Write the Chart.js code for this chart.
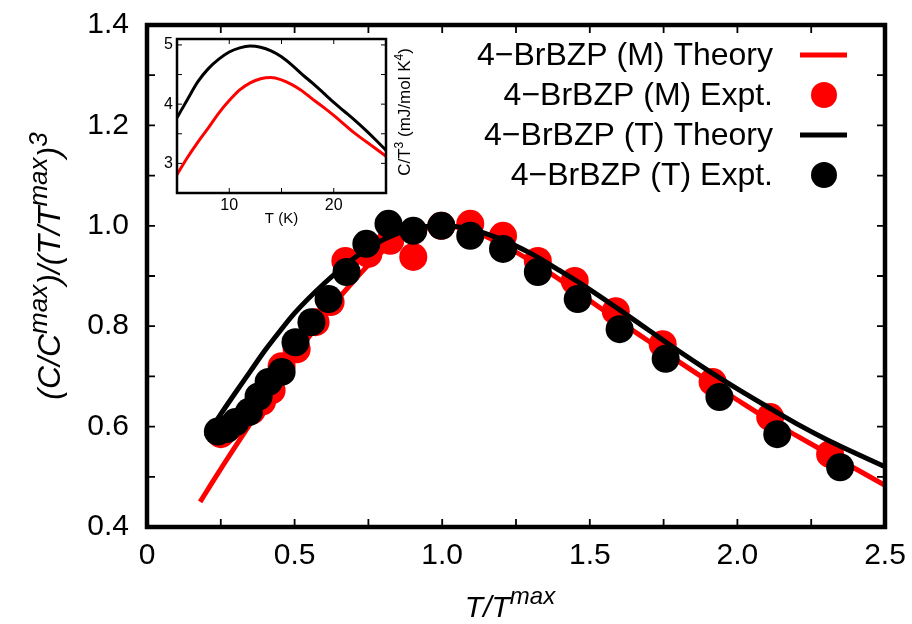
<!DOCTYPE html>
<html>
<head>
<meta charset="utf-8">
<script src="https://cdn.jsdelivr.net/npm/chart.js@4.4.0/dist/chart.umd.min.js"></script>
<style>
  html, body { margin: 0; padding: 0; background: #fff; }
  #wrap { position: relative; width: 912px; height: 624px; }
  #mainChart { position: absolute; left: 0; top: 0; }
  #insetChart { position: absolute; left: 150px; top: 28px; }
</style>
</head>
<body>
<div id="wrap">
  <canvas id="mainChart" width="912" height="624" style="width:912px;height:624px"></canvas>
  <canvas id="insetChart" width="280" height="200" style="width:280px;height:200px"></canvas>
</div>
<script>
// ---- main panel data: T/Tmax vs (C/Cmax)/(T/Tmax)^3 ----
var mTheoryX = [0.18, 0.22, 0.26, 0.31, 0.36, 0.42, 0.5, 0.6, 0.7, 0.8, 0.9, 1.0, 1.1, 1.2, 1.3, 1.4, 1.5, 1.6, 1.7, 1.8, 1.9, 2.0, 2.1, 2.2, 2.3, 2.4, 2.5];
var mTheoryY = [0.45, 0.488, 0.525, 0.57, 0.615, 0.668, 0.738, 0.82, 0.89, 0.95, 0.985, 1.0, 0.99, 0.964, 0.93, 0.892, 0.851, 0.81, 0.77, 0.73, 0.691, 0.653, 0.616, 0.582, 0.549, 0.516, 0.483];

var mExptX = [0.25, 0.30, 0.355, 0.39, 0.422, 0.456, 0.507, 0.571, 0.622, 0.672, 0.75, 0.824, 0.902, 0.997, 1.095, 1.206, 1.324, 1.449, 1.588, 1.747, 1.916, 2.111, 2.314];
var mExptY = [0.585, 0.605, 0.632, 0.65, 0.672, 0.72, 0.754, 0.808, 0.848, 0.93, 0.944, 0.97, 0.938, 1.0, 1.004, 0.98, 0.93, 0.89, 0.83, 0.764, 0.689, 0.619, 0.545];

var tTheoryX = [0.2, 0.25, 0.3, 0.35, 0.4, 0.45, 0.5, 0.6, 0.7, 0.8, 0.9, 1.0, 1.1, 1.2, 1.3, 1.4, 1.5, 1.6, 1.7, 1.8, 1.9, 2.0, 2.1, 2.2, 2.3, 2.4, 2.5];
var tTheoryY = [0.58, 0.625, 0.668, 0.71, 0.752, 0.79, 0.826, 0.885, 0.935, 0.972, 0.994, 1.0, 0.993, 0.973, 0.945, 0.91, 0.873, 0.833, 0.792, 0.751, 0.712, 0.675, 0.64, 0.606, 0.575, 0.547, 0.52];

var tExptX = [0.24, 0.27, 0.30, 0.345, 0.378, 0.412, 0.456, 0.503, 0.557, 0.615, 0.676, 0.743, 0.818, 0.902, 0.997, 1.095, 1.206, 1.324, 1.459, 1.601, 1.757, 1.939, 2.135, 2.348];
var tExptY = [0.59, 0.595, 0.609, 0.629, 0.66, 0.689, 0.709, 0.768, 0.808, 0.854, 0.908, 0.964, 1.004, 0.99, 1.0, 0.98, 0.954, 0.908, 0.854, 0.794, 0.735, 0.659, 0.585, 0.519];

var seriesLabels = ['4\u2212BrBZP (M) Theory', '4\u2212BrBZP (M) Expt.', '4\u2212BrBZP (T) Theory', '4\u2212BrBZP (T) Expt.'];

var xTickVals = [0, 0.5, 1.0, 1.5, 2.0, 2.5];
var xTickLabels = ['0', '0.5', '1.0', '1.5', '2.0', '2.5'];
var yTickVals = [0.4, 0.6, 0.8, 1.0, 1.2, 1.4];
var yTickLabels = ['0.4', '0.6', '0.8', '1.0', '1.2', '1.4'];

// ---- inset data: T (K) vs C/T^3 (mJ/mol K^4) ----
var insetT = [5, 6, 7, 8, 9, 10, 11, 12, 13, 14, 15, 16, 17, 18, 19, 20, 21, 22, 23, 24, 25];
var insetM = [2.81, 3.1, 3.36, 3.6, 3.85, 4.06, 4.24, 4.36, 4.43, 4.45, 4.41, 4.33, 4.22, 4.08, 3.95, 3.81, 3.66, 3.51, 3.38, 3.25, 3.12];
var insetTr = [3.77, 4.08, 4.38, 4.6, 4.76, 4.88, 4.95, 4.98, 4.96, 4.9, 4.8, 4.66, 4.5, 4.35, 4.19, 4.03, 3.88, 3.73, 3.57, 3.4, 3.22];

var insetXTickVals = [10, 20];
var insetXTickLabels = ['10', '20'];
var insetYTickVals = [3, 4, 5];
var insetYTickLabels = ['3', '4', '5'];

var RED = '#ff0000';
var BLACK = '#000000';
var FONT = '"Liberation Sans", Arial, Helvetica, sans-serif';
Chart.defaults.font.family = FONT;
Chart.defaults.color = '#000';

function pts(xs, ys) {
  return xs.map(function (x, i) { return { x: x, y: ys[i] }; });
}

// fixed axis size, and no extra room asked for the end labels
function fixSize(w, h) {
  return function (s) {
    if (w) s.width = w;
    if (h) s.height = h;
    s.paddingTop = s.paddingBottom = s.paddingLeft = s.paddingRight = 0;
  };
}

// text with superscripts, pieces = [[text, isSup], ...], centred on 0
function drawRich(ctx, pieces, size, italic, supRatio) {
  var supSize = Math.round(size * (supRatio || 0.72));
  var f = function (s) { return (italic ? 'italic ' : '') + s + 'px ' + FONT; };
  var total = 0;
  pieces.forEach(function (p) {
    ctx.font = f(p[1] ? supSize : size);
    total += ctx.measureText(p[0]).width;
  });
  var x = -total / 2;
  ctx.textAlign = 'left';
  ctx.textBaseline = 'alphabetic';
  pieces.forEach(function (p) {
    ctx.font = f(p[1] ? supSize : size);
    ctx.fillText(p[0], x, p[1] ? -size * 0.42 : 0);
    x += ctx.measureText(p[0]).width;
  });
}

function drawTicks(ctx, chart, xVals, yVals, len) {
  var a = chart.chartArea, xs = chart.scales.x, ys = chart.scales.y;
  ctx.beginPath();
  xVals.forEach(function (v) {
    var px = xs.getPixelForValue(v);
    ctx.moveTo(px, a.bottom); ctx.lineTo(px, a.bottom - len);
    ctx.moveTo(px, a.top); ctx.lineTo(px, a.top + len);
  });
  yVals.forEach(function (v) {
    var py = ys.getPixelForValue(v);
    ctx.moveTo(a.left, py); ctx.lineTo(a.left + len, py);
    ctx.moveTo(a.right, py); ctx.lineTo(a.right - len, py);
  });
  ctx.stroke();
}

var mainDecor = {
  id: 'mainDecor',
  afterDraw: function (chart) {
    var ctx = chart.ctx, a = chart.chartArea;
    ctx.save();
    ctx.strokeStyle = '#000';
    ctx.fillStyle = '#000';
    ctx.lineWidth = 1.8;
    var xm = [], ym = [];
    for (var i = 1; i < 10; i++) xm.push(i * 0.25);
    for (var j = 1; j < 10; j++) ym.push(0.4 + j * 0.1);
    drawTicks(ctx, chart, xm, ym, 8);
    ctx.lineWidth = 4.5;
    ctx.strokeRect(a.left, a.top, a.right - a.left, a.bottom - a.top);

    // legend (gnuplot style: text right aligned, sample on the right)
    var ds = chart.data.datasets;
    ctx.font = '32px ' + FONT;
    ctx.textAlign = 'right';
    ctx.textBaseline = 'middle';
    for (var k = 0; k < 4; k++) {
      var y = 55 + k * 40;
      ctx.fillStyle = '#000';
      ctx.fillText(ds[k].label, 773, y + 1);
      if (k % 2 === 0) {
        ctx.strokeStyle = ds[k].borderColor;
        ctx.lineWidth = 5;
        ctx.beginPath(); ctx.moveTo(800, y); ctx.lineTo(847, y); ctx.stroke();
      } else {
        ctx.fillStyle = ds[k].backgroundColor;
        ctx.beginPath(); ctx.arc(824, y, 13, 0, Math.PI * 2); ctx.fill();
      }
    }

    // axis titles
    ctx.fillStyle = '#000';
    ctx.save();
    ctx.translate(510, 617);
    drawRich(ctx, [['T/T', false], ['max', true]], 30, true, 0.8);
    ctx.restore();
    ctx.save();
    ctx.translate(60, 266);
    ctx.rotate(-Math.PI / 2);
    drawRich(ctx, [['(C/C', false], ['max', true], [')/(T/T', false], ['max', true], [')', false], ['3', true]], 32, true, 0.8);
    ctx.restore();
    ctx.restore();
  }
};

new Chart(document.getElementById('mainChart').getContext('2d'), {
  type: 'scatter',
  data: {
    datasets: [
      { label: seriesLabels[0], data: pts(mTheoryX, mTheoryY), showLine: true, borderColor: RED, backgroundColor: RED,
        borderWidth: 5, pointRadius: 0, cubicInterpolationMode: 'monotone', order: 4 },
      { label: seriesLabels[1], data: pts(mExptX, mExptY), backgroundColor: RED, borderColor: RED,
        borderWidth: 0, pointRadius: 14, order: 3 },
      { label: seriesLabels[2], data: pts(tTheoryX, tTheoryY), showLine: true, borderColor: BLACK, backgroundColor: BLACK,
        borderWidth: 5, pointRadius: 0, cubicInterpolationMode: 'monotone', order: 2 },
      { label: seriesLabels[3], data: pts(tExptX, tExptY), backgroundColor: BLACK, borderColor: BLACK,
        borderWidth: 0, pointRadius: 14, order: 1 }
    ]
  },
  options: {
    responsive: false,
    animation: false,
    layout: { padding: { left: 0, right: 27, top: 25, bottom: 0 } },
    plugins: { legend: { display: false }, tooltip: { enabled: false } },
    scales: {
      x: {
        type: 'linear', min: 0, max: 2.5,
        grid: { display: false, drawTicks: false },
        border: { display: false },
        afterBuildTicks: function (s) { s.ticks = xTickVals.map(function (v) { return { value: v }; }); },
        afterFit: fixSize(0, 97),
        ticks: { font: { size: 30 }, padding: 11, maxRotation: 0,
          callback: function (v, i) { return xTickLabels[i]; } }
      },
      y: {
        type: 'linear', min: 0.4, max: 1.4,
        grid: { display: false, drawTicks: false },
        border: { display: false },
        afterBuildTicks: function (s) { s.ticks = yTickVals.map(function (v) { return { value: v }; }); },
        afterFit: fixSize(147, 0),
        ticks: { font: { size: 30 }, padding: 18,
          callback: function (v, i) { return yTickLabels[i]; } }
      }
    }
  },
  plugins: [mainDecor]
});

var insetDecor = {
  id: 'insetDecor',
  beforeDatasetsDraw: function (chart) {
    var ctx = chart.ctx, a = chart.chartArea;
    ctx.save();
    ctx.fillStyle = '#fff';
    ctx.fillRect(a.left, a.top, a.right - a.left, a.bottom - a.top);
    ctx.restore();
  },
  afterDraw: function (chart) {
    var ctx = chart.ctx, a = chart.chartArea;
    ctx.save();
    ctx.strokeStyle = '#000';
    ctx.lineWidth = 1;
    drawTicks(ctx, chart, [10, 15, 20], [3, 3.5, 4, 4.5, 5], 5);
    ctx.lineWidth = 2.5;
    ctx.strokeRect(a.left, a.top, a.right - a.left, a.bottom - a.top);
    ctx.fillStyle = '#000';
    ctx.translate(a.right + 24, 84);
    ctx.rotate(-Math.PI / 2);
    drawRich(ctx, [['C/T', false], ['3', true], [' (mJ/mol K', false], ['4', true], [')', false]], 17, false);
    ctx.restore();
  }
};

new Chart(document.getElementById('insetChart').getContext('2d'), {
  type: 'scatter',
  data: {
    datasets: [
      { label: 'M', data: pts(insetT, insetM), showLine: true, borderColor: RED, borderWidth: 3,
        pointRadius: 0, cubicInterpolationMode: 'monotone' },
      { label: 'T', data: pts(insetT, insetTr), showLine: true, borderColor: BLACK, borderWidth: 3,
        pointRadius: 0, cubicInterpolationMode: 'monotone' }
    ]
  },
  options: {
    responsive: false,
    animation: false,
    layout: { padding: { left: 0, right: 44, top: 11, bottom: 0 } },
    plugins: { legend: { display: false }, tooltip: { enabled: false } },
    scales: {
      x: {
        type: 'linear', min: 5, max: 25,
        grid: { display: false, drawTicks: false },
        border: { display: false },
        afterBuildTicks: function (s) { s.ticks = insetXTickVals.map(function (v) { return { value: v }; }); },
        afterFit: fixSize(0, 35),
        title: { display: true, text: 'T (K)', font: { size: 15 }, padding: { top: 0, bottom: 0 } },
        ticks: { font: { size: 16 }, padding: 3, maxRotation: 0,
          callback: function (v, i) { return insetXTickLabels[i]; } }
      },
      y: {
        type: 'linear', min: 2.5, max: 5.1,
        grid: { display: false, drawTicks: false },
        border: { display: false },
        afterBuildTicks: function (s) { s.ticks = insetYTickVals.map(function (v) { return { value: v }; }); },
        afterFit: fixSize(27, 0),
        ticks: { font: { size: 16 }, padding: 4,
          callback: function (v, i) { return insetYTickLabels[i]; } }
      }
    }
  },
  plugins: [insetDecor]
});
</script>
</body>
</html>
